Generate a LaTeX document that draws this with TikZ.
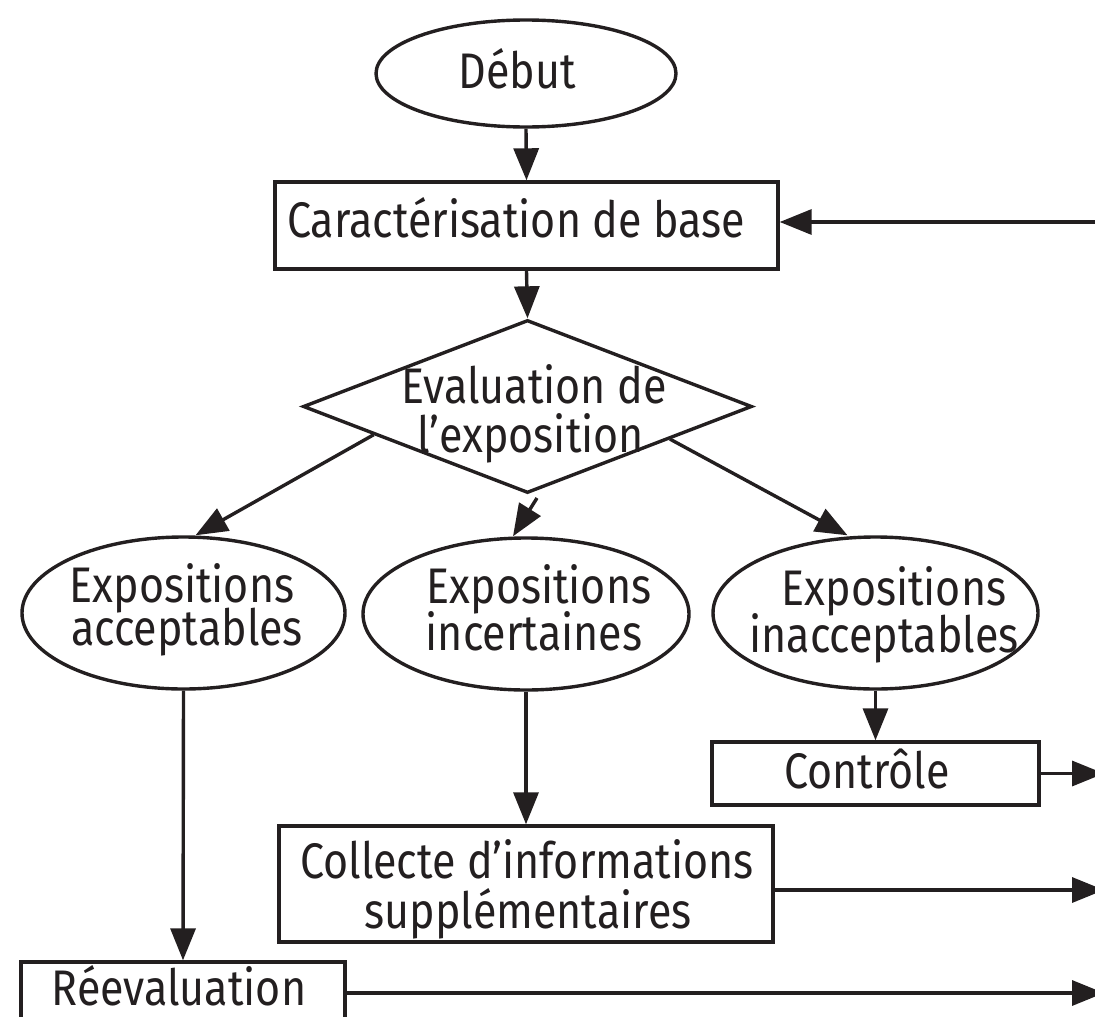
\documentclass[tikz,border=0pt]{standalone}
\usepackage{fontspec}
\setmainfont[FakeStretch=0.86]{Fira Sans}
\usetikzlibrary{shapes.geometric,arrows.meta,calc}
\definecolor{ink}{RGB}{35,31,32}
\tikzset{
  ln/.style={line width=3.4pt, draw=ink},
  arr/.style={ln, -{Triangle[length=32pt,width=25pt]}},
  boxnode/.style={ln, rectangle, inner sep=0pt},
  ellnode/.style={ln, ellipse, inner sep=0pt},
  dianode/.style={ln, diamond, inner sep=0pt},
  txt/.style={font=\fontsize{50}{50}\selectfont, text=ink, anchor=base, inner sep=0pt},
}
\begin{document}
\begin{tikzpicture}[x=1pt,y=-1pt]
\useasboundingbox (0,0) rectangle (1095,1017);
% shapes
\node[ellnode, minimum width=300pt, minimum height=107pt] (deb) at (526,73.5) {};
\node[boxnode, minimum width=503pt, minimum height=87pt] (car) at (526.5,225.5) {};
\node[dianode, minimum width=449pt, minimum height=173pt] (dia) at (527.5,406.5) {};
\node[ellnode, minimum width=323pt, minimum height=152pt] (acc) at (183.5,613) {};
\node[ellnode, minimum width=326pt, minimum height=152pt] (inc) at (526,614) {};
\node[ellnode, minimum width=325pt, minimum height=152pt] (ina) at (875.5,613) {};
\node[boxnode, minimum width=327pt, minimum height=63pt] (con) at (875.5,773.5) {};
\node[boxnode, minimum width=494pt, minimum height=116pt] (col) at (526,884) {};
\node[boxnode, minimum width=324pt, minimum height=62pt] (rev) at (183,993) {};
% texts
\node[txt] (tdeb) at (517,88) {Début};
\node[txt] (tcar) at (516,237) {Caractérisation de base};
\node[txt] (tdia1) at (534,403) {Evaluation de};
\node[txt] (tdia2) at (531,452) {l’exposition};
\node[txt] (tacc1) at (182,602) {Expositions};
\node[txt] (tacc2) at (187,645) {acceptables};
\node[txt] (tinc1) at (539,603) {Expositions};
\node[txt] (tinc2) at (534,650) {incertaines};
\node[txt] (tina1) at (894,605) {Expositions};
\node[txt] (tina2) at (884,652) {inacceptables};
\node[txt] (tcon) at (867,788) {Contrôle};
\node[txt] (tcol1) at (527,878) {Collecte d’informations};
\node[txt] (tcol2) at (528,928) {supplémentaires};
\node[txt] (trev) at (179,1005) {Réevaluation};
% free ends
\coordinate (inR) at (1100,222);
\coordinate (outCon) at (1104,773.5);
\coordinate (outCol) at (1104,890);
\coordinate (outRev) at (1104,993);
\coordinate (midS) at (537,498);
% connectors
\draw[arr] (deb.south) -- (car.north);
\draw[arr] (car.south) -- (dia.north);
\draw[arr] (inR) -- (car.east |- inR);
\draw[arr] ($(dia.west)!0.32!(dia.south)$) -- ($(acc.north)+(12,0)$);
\draw[arr] (midS) -- ($(inc.north)+(-13,0)$);
\draw[arr] ($(dia.east)!0.37!(dia.south)$) -- ($(ina.north)+(-28,0)$);
\draw[arr] (acc.south) -- (rev.north);
\draw[arr] (inc.south) -- (col.north);
\draw[arr] (ina.south) -- (con.north);
\draw[arr] (con.east) -- (outCon);
\draw[arr] (col.east |- outCol) -- (outCol);
\draw[arr] (rev.east) -- (outRev);
\end{tikzpicture}
\end{document}
